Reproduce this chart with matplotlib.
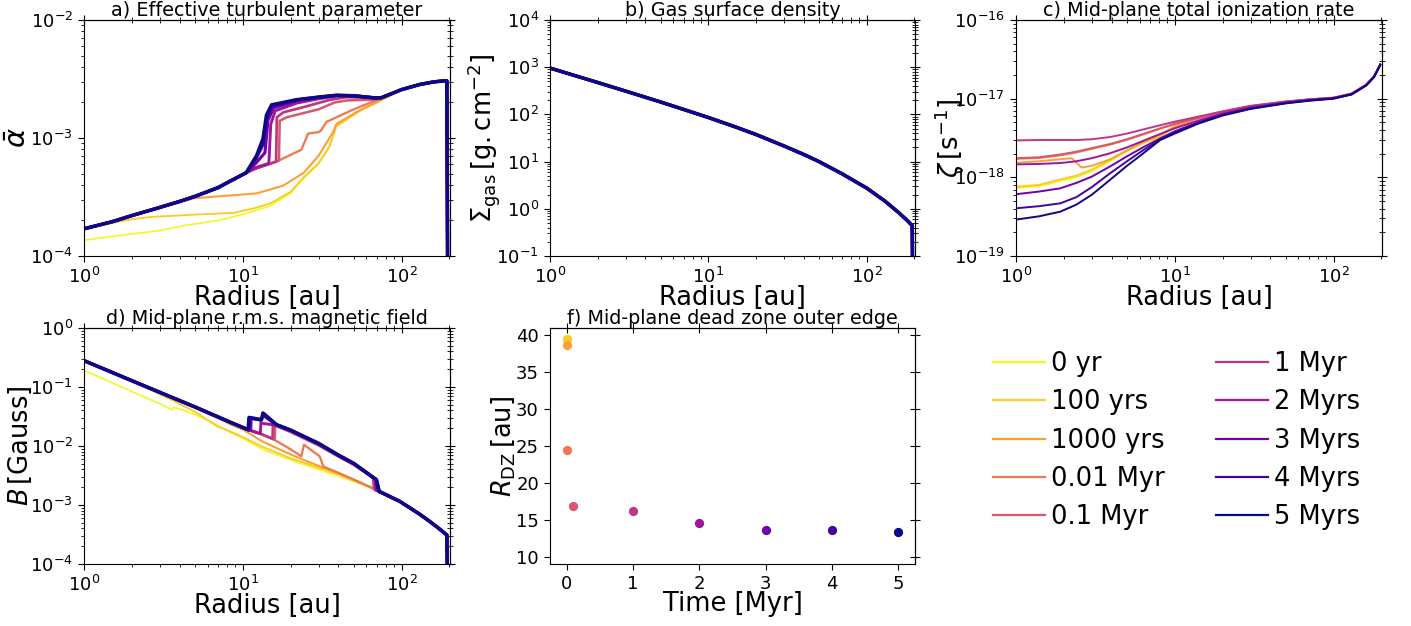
import numpy as np
import matplotlib
matplotlib.use("Agg")
import matplotlib.pyplot as plt
from matplotlib.lines import Line2D

# %% data
labels = ["0 yr", "100 yrs", "1000 yrs", "0.01 Myr", "0.1 Myr",
          "1 Myr", "2 Myrs", "3 Myrs", "4 Myrs", "5 Myrs"]
time_myr = [0, 1e-4, 1e-3, 0.01, 0.1, 1, 2, 3, 4, 5]
r_dz = [39.45, 39.4, 38.6, 24.5, 16.9, 16.2, 14.6, 13.7, 13.7, 13.4]

# a) effective turbulent parameter
alpha_head_r = [1, 1.5, 2, 3, 4, 5, 7, 8.3, 10.5]
alpha_head_v = [1.70e-4, 1.95e-4, 2.2e-4, 2.58e-4, 2.9e-4, 3.2e-4, 3.8e-4, 4.3e-4, 5.07e-4]
alpha_tail_r = [100, 130, 160, 185, 193, 195]
alpha_tail_v = [2.57e-3, 2.84e-3, 2.99e-3, 3.05e-3, 3.05e-3, 9e-5]
alpha_r = [
    [1, 2, 3, 4.25, 7, 10, 14.9, 20, 24.2, 30, 35, 39, 55, 73],
    [1, 2, 2.62, 4.9, 8.77, 12, 14.9, 20, 24.2, 30, 35, 39, 55, 73],
    [1, 2, 3, 4.9, 7, 10, 12.3, 18, 24.2, 30, 37, 39, 55, 73],
    [12, 14, 16.7, 23.4, 25.8, 29.8, 31, 33.7, 39, 50, 73],
    [12, 14, 16.2, 16.9, 17.1, 19, 30, 38, 45, 69.5, 75],
    [12, 14, 16.2, 16.4, 18, 25, 35, 45, 69.5, 75],
    [12, 14.6, 15.0, 16, 22, 30, 38.9, 50, 69.5, 75],
    [12.2, 13.8, 14.4, 15.6, 22, 30, 38.9, 50, 69.5, 75],
    [12.2, 13.5, 14.2, 15.3, 21.8, 30, 38.9, 50, 69.5, 75],
    [12.2, 13.4, 14.1, 15.2, 21.8, 30, 38.9, 50, 69.5, 75],
]
alpha_v = [
    [1.36e-4, 1.54e-4, 1.64e-4, 1.81e-4, 2.0e-4, 2.25e-4, 2.65e-4, 3.4e-4, 4.55e-4, 6.0e-4, 8.3e-4, 1.25e-3, 1.7e-3, 2.05e-3],
    [1.7e-4, 2.05e-4, 2.14e-4, 2.24e-4, 2.32e-4, 2.55e-4, 2.79e-4, 3.5e-4, 4.65e-4, 6.1e-4, 8.4e-4, 1.27e-3, 1.71e-3, 2.06e-3],
    [1.7e-4, 2.2e-4, 2.55e-4, 3.08e-4, 3.2e-4, 3.32e-4, 3.4e-4, 3.95e-4, 5.07e-4, 7.06e-4, 1.12e-3, 1.32e-3, 1.73e-3, 2.08e-3],
    [5.5e-4, 5.9e-4, 6.4e-4, 7.96e-4, 1.09e-3, 1.12e-3, 1.15e-3, 1.37e-3, 1.5e-3, 1.75e-3, 2.15e-3],
    [5.5e-4, 5.9e-4, 6.3e-4, 6.45e-4, 1.4e-3, 1.5e-3, 1.75e-3, 2.0e-3, 2.08e-3, 2.12e-3, 2.2e-3],
    [5.5e-4, 5.9e-4, 6.3e-4, 1.5e-3, 1.65e-3, 1.85e-3, 2.1e-3, 2.22e-3, 2.18e-3, 2.2e-3],
    [5.6e-4, 6.1e-4, 1.3e-3, 1.7e-3, 1.98e-3, 2.15e-3, 2.27e-3, 2.27e-3, 2.18e-3, 2.2e-3],
    [6.2e-4, 7.5e-4, 1.4e-3, 1.8e-3, 2.07e-3, 2.2e-3, 2.29e-3, 2.28e-3, 2.18e-3, 2.2e-3],
    [6.8e-4, 9.0e-4, 1.5e-3, 1.88e-3, 2.1e-3, 2.22e-3, 2.3e-3, 2.28e-3, 2.18e-3, 2.2e-3],
    [7.06e-4, 9.8e-4, 1.56e-3, 1.91e-3, 2.11e-3, 2.22e-3, 2.30e-3, 2.28e-3, 2.18e-3, 2.2e-3],
]

# b) gas surface density (identical for all times)
sigma_r = [1, 1.5, 2, 3, 5, 7, 10, 15, 20, 30, 40, 50, 70, 100, 130, 160, 180, 194, 195]
sigma_v = [960, 635, 474, 312, 183, 127, 86, 53.5, 37.5, 21.5, 14.2, 10.0, 5.5, 2.75, 1.47, 0.82, 0.57, 0.44, 0.05]

# c) mid-plane ionization rate, in 1e-18 s^-1
zeta_r = [1, 1.4, 1.9, 2.4, 3, 3.9, 5, 6.3, 8.1, 10, 14, 20, 30, 50, 70, 100, 130, 160, 180, 197]
zeta_dip_r = [1, 1.4, 1.9, 2.24, 2.59, 3, 3.9, 5, 6.3, 8.1, 10, 14, 20, 30, 50, 70, 100, 130, 160, 180, 197]
zeta_v = [
    [0.73, 0.77, 0.9, 1.0, 1.2, 1.6, 2.15, 2.7, 3.25, 4.4, 5.6, 6.8, 8.0, 9.1, 9.7, 10.2, 11.5, 14.9, 19.0, 27],
    [0.76, 0.8, 0.94, 1.05, 1.25, 1.66, 2.2, 2.75, 3.29, 4.5, 5.7, 6.9, 8.1, 9.15, 9.75, 10.25, 11.55, 14.9, 19.1, 27],
    [1.53, 1.6, 1.7, 1.75, 1.33, 1.4, 1.69, 2.2, 2.8, 3.5, 4.4, 5.6, 6.8, 8.0, 9.1, 9.75, 10.25, 11.55, 14.9, 19.1, 27],
    [1.72, 1.76, 1.9, 2.07, 2.3, 2.6, 3.0, 3.5, 4.15, 4.75, 5.65, 6.75, 8.0, 9.15, 9.75, 10.25, 11.55, 14.9, 19.1, 27],
    [1.75, 1.8, 1.95, 2.12, 2.35, 2.65, 3.05, 3.55, 4.2, 4.8, 5.7, 6.8, 8.0, 9.15, 9.75, 10.25, 11.55, 14.9, 19.1, 27],
    [2.95, 2.98, 2.98, 2.98, 3.05, 3.25, 3.6, 4.05, 4.6, 5.1, 5.9, 6.9, 8.1, 9.2, 9.8, 10.3, 11.6, 15.0, 19.2, 27],
    [1.46, 1.48, 1.52, 1.6, 1.75, 2.02, 2.4, 2.9, 3.56, 4.2, 5.25, 6.5, 7.8, 8.95, 9.6, 10.15, 11.45, 14.8, 19.0, 27],
    [0.61, 0.66, 0.725, 0.85, 1.02, 1.37, 1.85, 2.4, 3.13, 3.85, 5.0, 6.3, 7.6, 8.85, 9.55, 10.1, 11.4, 14.8, 19.0, 27],
    [0.404, 0.43, 0.467, 0.56, 0.75, 1.12, 1.6, 2.2, 3.04, 3.75, 4.9, 6.2, 7.5, 8.8, 9.5, 10.05, 11.35, 14.7, 18.9, 27],
    [0.29, 0.32, 0.366, 0.45, 0.6, 0.925, 1.4, 2.0, 2.98, 3.6, 4.8, 6.1, 7.4, 8.7, 9.4, 10.0, 11.3, 14.6, 18.8, 27],
]

# d) mid-plane r.m.s. magnetic field [Gauss]
bfield_head_r = [1, 2, 5, 8.28, 10.8]
bfield_head_v = [0.28, 0.128, 0.0459, 0.0255, 0.0189]
bfield_tail_r = [72.3, 97.6, 130, 150, 170, 193, 195]
bfield_tail_v = [0.0017, 0.00115, 7.0e-4, 5.3e-4, 4.1e-4, 3.1e-4, 5e-5]
bfield_r = [
    [1, 1.36, 2, 3, 3.6, 3.65, 4.25, 5, 6.5, 8.5, 10, 13.4, 20, 30, 40, 50, 69.5],
    [1, 2, 2.4, 3.5, 5, 6.9, 8.28, 10, 13.4, 20, 30, 40, 50, 69.5],
    [1, 2, 3.5, 5, 6.9, 8.28, 10, 13.4, 20, 30, 40, 50, 69.5],
    [13, 16, 20, 23.4, 24.3, 30.5, 32.2, 40, 50, 69.5],
    [13, 15.9, 16.0, 20, 30, 40, 50, 66, 67],
    [13, 15.4, 15.5, 20, 30, 40, 50, 67, 68],
    [12.9, 13.0, 13.6, 16.3, 20, 30, 40, 50, 68, 69],
    [11.2, 11.3, 13.0, 13.4, 16.3, 20, 30, 40, 50, 69, 70.5],
    [10.9, 11.0, 13.1, 13.5, 16.3, 20, 30, 40, 50, 69.3],
    [10.96, 13.1, 13.4, 16.3, 20, 30, 40, 50, 69.5],
]
bfield_v = [
    [0.191, 0.133, 0.084, 0.052, 0.041, 0.045, 0.0405, 0.034, 0.025, 0.0166, 0.0135, 0.0087, 0.0058, 0.0040, 0.0031, 0.0025, 0.0018],
    [0.28, 0.128, 0.100, 0.062, 0.038, 0.0215, 0.0178, 0.0142, 0.0096, 0.0062, 0.0043, 0.0033, 0.0026, 0.0018],
    [0.28, 0.128, 0.066, 0.044, 0.030, 0.0235, 0.019, 0.0118, 0.0072, 0.0046, 0.0035, 0.0027, 0.0018],
    [0.016, 0.0125, 0.0088, 0.0067, 0.0105, 0.0067, 0.0045, 0.0035, 0.0027, 0.0018],
    [0.016, 0.0128, 0.022, 0.0172, 0.0102, 0.0066, 0.0048, 0.0029, 0.00185],
    [0.016, 0.0133, 0.0235, 0.0178, 0.0106, 0.0068, 0.0049, 0.0029, 0.0018],
    [0.0162, 0.0245, 0.024, 0.0225, 0.0183, 0.0109, 0.0069, 0.0050, 0.0028, 0.0018],
    [0.0184, 0.0295, 0.0275, 0.033, 0.0229, 0.0184, 0.011, 0.0070, 0.0050, 0.0027, 0.0018],
    [0.019, 0.03, 0.0277, 0.0355, 0.023, 0.0185, 0.011, 0.0070, 0.00505, 0.0027],
    [0.0305, 0.0279, 0.0362, 0.023, 0.0186, 0.0111, 0.00703, 0.00508, 0.00268],
]

# %% build curves
colors = [plt.cm.plasma(v) for v in np.linspace(1, 0, len(labels))]

def alpha_curve(i):
    if i < 3:
        r = alpha_r[i] + alpha_tail_r
        v = alpha_v[i] + alpha_tail_v
    else:
        r = alpha_head_r + alpha_r[i] + alpha_tail_r
        v = alpha_head_v + alpha_v[i] + alpha_tail_v
    return r, v

def bfield_curve(i):
    if i < 3:
        r = bfield_r[i] + bfield_tail_r
        v = bfield_v[i] + bfield_tail_v
    else:
        r = bfield_head_r + bfield_r[i] + bfield_tail_r
        v = bfield_head_v + bfield_v[i] + bfield_tail_v
    return r, v

def style(ax):
    ax.tick_params(which="both", direction="out", labelsize=13)
    ax.tick_params(which="major", length=4.5)
    ax.tick_params(which="minor", length=2.5)
    top = ax.secondary_xaxis("top")
    top.tick_params(which="both", direction="inout", labeltop=False)
    top.tick_params(which="major", length=7)
    top.tick_params(which="minor", length=4)
    right = ax.secondary_yaxis("right")
    right.tick_params(which="both", direction="inout", labelright=False)
    right.tick_params(which="major", length=7)
    right.tick_params(which="minor", length=4)

fig = plt.figure(figsize=(14.11, 6.26), dpi=100)
W, H = 1411, 626
def pos(x0, y0, x1, y1):
    return [x0 / W, 1 - y1 / H, (x1 - x0) / W, (y1 - y0) / H]

ax_a = fig.add_axes(pos(84, 20, 450, 256))
ax_b = fig.add_axes(pos(550, 20, 915, 256))
ax_c = fig.add_axes(pos(1016, 20, 1382, 256))
ax_d = fig.add_axes(pos(84, 328, 450, 564))
ax_f = fig.add_axes(pos(550, 328, 915, 564))

for i in range(len(labels)):
    lw = 1.2 + 0.15 * i
    r, v = alpha_curve(i)
    ax_a.plot(r, v, color=colors[i], lw=lw)
    ax_b.plot(sigma_r, sigma_v, color=colors[i], lw=lw)
    rz = zeta_dip_r if i == 2 else zeta_r
    ax_c.plot(rz, np.array(zeta_v[i]) * 1e-18, color=colors[i], lw=1.4)
    r, v = bfield_curve(i)
    ax_d.plot(r, v, color=colors[i], lw=lw)
    ax_f.scatter(time_myr[i], r_dz[i], color=colors[i], s=32, zorder=3)

title_kw = dict(fontsize=13.8, pad=1.5)
label_fs = 18.5

for ax in (ax_a, ax_b, ax_c, ax_d):
    ax.set_xscale("log")
    ax.set_yscale("log")
    ax.set_xlim(1, 202)
    ax.set_xlabel("Radius [au]", fontsize=label_fs, labelpad=-1.5)

ax_a.set_ylim(1e-4, 1e-2)
ax_a.set_ylabel(r"$\bar{\alpha}$", fontsize=21)
ax_a.yaxis.set_label_coords(-0.142, 0.5)
ax_a.set_title("a) Effective turbulent parameter", **title_kw)

ax_b.set_ylim(1e-1, 1e4)
ax_b.set_ylabel(r"$\Sigma_{\rm gas}\,[\rm g.cm^{-2}]$", fontsize=label_fs)
ax_b.yaxis.set_label_coords(-0.131, 0.5)
ax_b.set_title("b) Gas surface density", **title_kw)

ax_c.set_ylim(1e-19, 1e-16)
ax_c.set_ylabel(r"$\zeta\,[\rm s^{-1}]$", fontsize=label_fs)
ax_c.yaxis.set_label_coords(-0.135, 0.5)
ax_c.set_title("c) Mid-plane total ionization rate", **title_kw)

ax_d.set_ylim(1e-4, 1)
ax_d.set_ylabel(r"$B\,[\rm Gauss]$", fontsize=label_fs)
ax_d.yaxis.set_label_coords(-0.137, 0.5)
ax_d.set_title("d) Mid-plane r.m.s. magnetic field", **title_kw)

ax_f.set_xlim(-0.25, 5.25)
ax_f.set_ylim(9.05, 40.9)
ax_f.set_xticks([0, 1, 2, 3, 4, 5])
ax_f.set_yticks([10, 15, 20, 25, 30, 35, 40])
ax_f.set_xlabel("Time [Myr]", fontsize=label_fs, labelpad=-1.5)
ax_f.set_ylabel(r"$R_{\rm DZ}\,[\rm au]$", fontsize=label_fs)
ax_f.yaxis.set_label_coords(-0.09, 0.5)
ax_f.set_title("f) Mid-plane dead zone outer edge", **title_kw)

for ax in (ax_a, ax_b, ax_c, ax_d, ax_f):
    style(ax)

handles = [Line2D([], [], color=c, lw=1.6) for c in colors]
fig.legend(handles, labels, ncol=2, loc="upper left", bbox_to_anchor=(0.6875, 0.476),
           frameon=False, fontsize=18.5, handlelength=2.0, columnspacing=2.0,
           labelspacing=0.48, handletextpad=0.25)

plt.savefig("out.png", dpi=100)
